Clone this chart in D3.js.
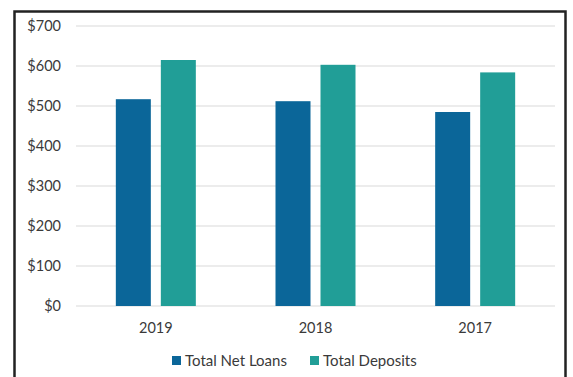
<!DOCTYPE html>
<html><head><meta charset="utf-8">
<script src="https://cdn.jsdelivr.net/npm/d3@7"></script>
<style>body{margin:0;background:#fff}</style>
</head><body>
<svg id="c" width="573" height="377"></svg>
<script>
const categories = ["2019", "2018", "2017"];
const seriesNames = ["Total Net Loans", "Total Deposits"];
const loans = [517, 512, 485];
const deposits = [615, 603, 584];
const yTicks = [0, 100, 200, 300, 400, 500, 600, 700];
const colors = ["#0b6699", "#219e97"];

const svg = d3.select("#c");
const font = "Lato, 'Open Sans', sans-serif";
const txt = "#3a3a3a";

// frame
svg.append("rect").attr("x", 14.5).attr("y", 11.5).attr("width", 551).attr("height", 380)
  .attr("fill", "#fff").attr("stroke", "#222").attr("stroke-width", 2.5);

const x0 = d3.scaleBand().domain(categories).range([76, 555]);
const y = d3.scaleLinear().domain([0, 700]).range([306, 26]);

// gridlines
svg.append("g").selectAll("line").data(yTicks).join("line")
  .attr("x1", 76).attr("x2", 555)
  .attr("y1", d => y(d)).attr("y2", d => y(d))
  .attr("stroke", "#d9d9d9").attr("stroke-width", 1);

// y labels
svg.append("g").selectAll("text").data(yTicks).join("text")
  .attr("x", 61).attr("y", d => y(d)).attr("dy", "0.35em")
  .attr("text-anchor", "end").attr("font-family", font).attr("font-size", 14.5)
  .attr("fill", txt).text(d => "$" + d);

const barW = 35, gap = 10;
const data = categories.map((c, i) => ({c, vals: [loans[i], deposits[i]]}));
const g = svg.append("g");
data.forEach(d => {
  const cx = x0(d.c) + x0.bandwidth() / 2;
  d.vals.forEach((v, j) => {
    const bx = j === 0 ? cx - gap / 2 - barW : cx + gap / 2;
    g.append("rect").attr("x", bx).attr("y", y(v)).attr("width", barW)
      .attr("height", y(0) - y(v)).attr("fill", colors[j]);
  });
});

// x labels
svg.append("g").selectAll("text").data(categories).join("text")
  .attr("x", d => x0(d) + x0.bandwidth() / 2).attr("y", 333)
  .attr("text-anchor", "middle").attr("font-family", font).attr("font-size", 14.5)
  .attr("fill", txt).text(d => d);

// legend
const legX = [172, 310];
const lg = svg.append("g");
seriesNames.forEach((s, i) => {
  lg.append("rect").attr("x", legX[i]).attr("y", 356).attr("width", 9).attr("height", 9).attr("fill", colors[i]);
  lg.append("text").attr("x", legX[i] + 13).attr("y", 361).attr("dy", "0.35em")
    .attr("font-family", font).attr("font-size", 15).attr("fill", txt).text(s);
});
</script>
</body></html>
